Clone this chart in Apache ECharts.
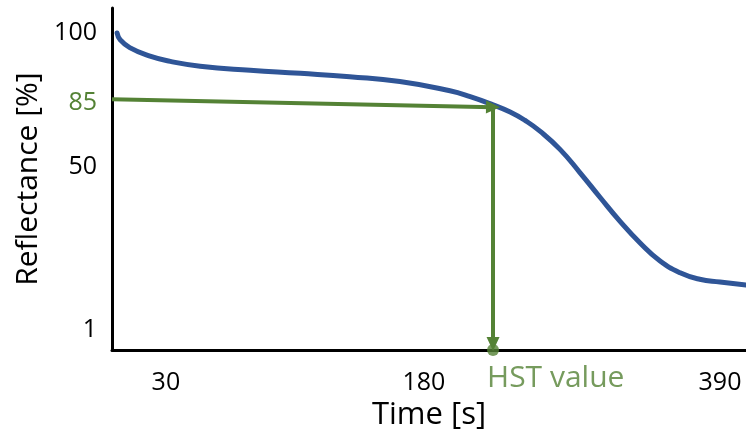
<!DOCTYPE html>
<html>
<head>
<meta charset="utf-8">
<script src="https://cdn.jsdelivr.net/npm/echarts@6/dist/echarts.min.js"></script>
<style>
  html, body { margin: 0; padding: 0; background: #fff; }
  #chart { width: 746px; height: 436px; }
</style>
</head>
<body>
<div id="chart"></div>
<script>
// Schematic reflectance curve; both axes run on a 0-100 drawing scale
const curveTime = [0.8, 1.3, 2.8, 6.0, 9.2, 13.9, 21.8, 29.7, 37.5, 45.4, 53.3, 56.5, 60.1, 62.8, 65.1, 67.5, 70.7, 73.8, 77.0, 80.1, 83.3, 86.4, 89.6, 92.7, 95.9, 100];
const curveLevel = [92.7, 90.7, 88.4, 85.9, 84.4, 83.0, 81.8, 80.9, 79.9, 78.5, 75.8, 74.1, 71.7, 69.6, 67.2, 64.0, 58.6, 51.9, 44.6, 37.7, 31.3, 26.1, 22.6, 20.7, 19.9, 19.0];

// Tick positions on the drawing scale and the text shown there
const xTickPos = [8.5, 49.2, 95.9];
const xTickText = ['30', '180', '390'];
const yTickPos = [92.7, 72.2, 53.6, 5.8];
const yTickText = ['100', '85', '50', '1'];

// Threshold arrow (85 %) and the HST read-off point
const thresholdStart = [0, 73.3];
const hstPoint = [60.1, 71.0];
const hstArrowEnd = [60.1, 1.8];
const hstTime = 60.1;
const hstLabel = 'HST value';

const BLUE = '#2F5597';
const GREEN = '#548235';
const FONT = 'Open Sans';

const chart = echarts.init(document.getElementById('chart'), null, { renderer: 'canvas' });

chart.setOption({
  animation: false,
  backgroundColor: '#fff',
  textStyle: { fontFamily: FONT },
  grid: { left: 112, right: 0, top: 8, bottom: 83, containLabel: false },
  xAxis: {
    type: 'value', min: 0, max: 100,
    name: 'Time [s]', nameLocation: 'middle', nameGap: 46,
    nameTextStyle: { fontFamily: FONT, fontSize: 31, color: '#000' },
    axisLine: { show: true, onZero: false, lineStyle: { color: '#000', width: 3 } },
    axisTick: { show: false },
    splitLine: { show: false },
    axisLabel: {
      customValues: xTickPos,
      formatter: v => xTickText[xTickPos.indexOf(v)] ?? '',
      fontFamily: FONT, fontSize: 25, color: '#000', margin: 20
    }
  },
  yAxis: {
    type: 'value', min: 0, max: 100,
    name: 'Reflectance [%]', nameLocation: 'middle', nameGap: 68, nameRotate: 90,
    nameTextStyle: { fontFamily: FONT, fontSize: 30, color: '#000' },
    axisLine: { show: true, onZero: false, lineStyle: { color: '#000', width: 3 } },
    axisTick: { show: false },
    splitLine: { show: false },
    axisLabel: {
      customValues: yTickPos,
      formatter: v => {
        const t = yTickText[yTickPos.indexOf(v)] ?? '';
        return t === '85' ? '{g|' + t + '}' : t;
      },
      rich: { g: { color: GREEN, fontFamily: FONT, fontSize: 25 } },
      fontFamily: FONT, fontSize: 25, color: '#000', margin: 15
    }
  },
  series: [
    {
      type: 'line',
      data: curveTime.map((t, i) => [t, curveLevel[i]]),
      smooth: 0.5,
      showSymbol: false,
      lineStyle: { color: BLUE, width: 5, cap: 'round' },
      z: 2
    },
    {
      type: 'scatter',
      data: [[hstTime, 0]],
      symbol: 'circle',
      symbolSize: 12,
      itemStyle: { color: GREEN },
      clip: false,
      z: 4,
      label: {
        show: true,
        formatter: hstLabel,
        position: [0, 34],
        align: 'left',
        verticalAlign: 'middle',
        color: GREEN,
        fontFamily: FONT,
        fontSize: 30
      },
      markLine: {
        silent: true,
        symbol: ['none', 'triangle'],
        symbolSize: [13, 14],
        label: { show: false },
        lineStyle: { color: GREEN, width: 4, type: 'solid' },
        emphasis: { disabled: true },
        data: [
          [{ coord: thresholdStart }, { coord: hstPoint }],
          [{ coord: hstPoint }, { coord: hstArrowEnd }]
        ]
      }
    }
  ]
});
</script>
</body>
</html>
